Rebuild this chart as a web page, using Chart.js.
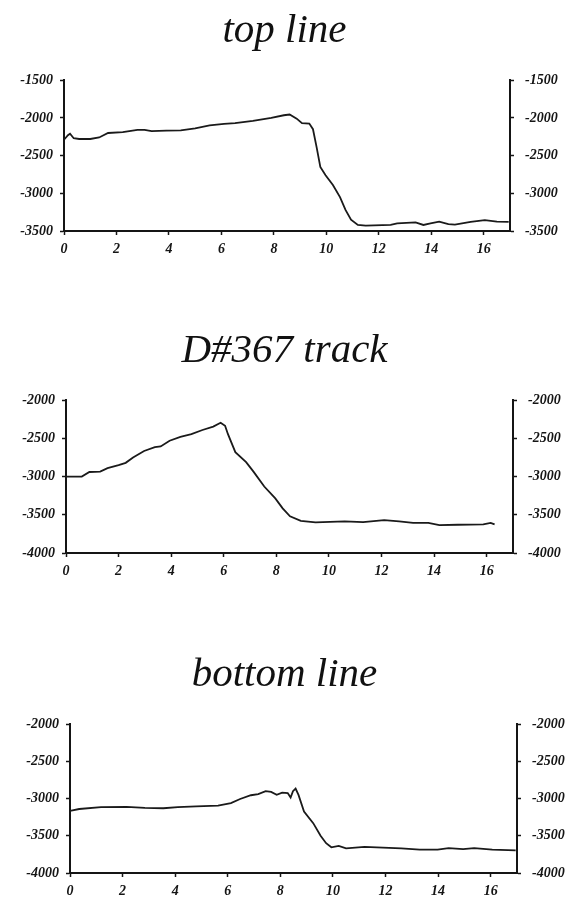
<!DOCTYPE html>
<html>
<head>
<meta charset="utf-8">
<script src="https://cdn.jsdelivr.net/npm/chart.js@4/dist/chart.umd.min.js"></script>
<style>
    html, body { margin: 0; padding: 0; background: #fff; }
    body { width: 569px; height: 900px; position: relative; overflow: hidden; }
    canvas { position: absolute; left: 0; }
</style>
</head>
<body>
<canvas id="top-chart" width="569" height="258" style="top:0px"></canvas>
<canvas id="track-chart" width="569" height="260" style="top:320px"></canvas>
<canvas id="bottom-chart" width="569" height="256" style="top:644px"></canvas>
<script>
// values
const titles = ['top line', 'D#367 track', 'bottom line']
const xTicks = [0, 2, 4, 6, 8, 10, 12, 14, 16]

const topX = [0, 0.15, 0.23, 0.37, 0.58, 1.0, 1.34, 1.68, 2.24, 2.8, 3.07, 3.34, 3.9, 4.45, 5.0, 5.55, 6.1, 6.52, 7.2, 7.9, 8.38, 8.6, 8.87, 9.07, 9.35, 9.49, 9.63, 9.77, 9.97, 10.25, 10.52, 10.73, 10.94, 11.2, 11.5, 12.45, 12.7, 13.4, 13.7, 13.97, 14.3, 14.65, 14.9, 15.5, 16.04, 16.5, 16.95]
const topY = [-2290, -2230, -2210, -2270, -2280, -2280, -2260, -2200, -2190, -2160, -2160, -2175, -2170, -2165, -2140, -2100, -2080, -2070, -2040, -2000, -1965, -1955, -2010, -2070, -2075, -2150, -2390, -2650, -2760, -2890, -3050, -3220, -3350, -3420, -3430, -3420, -3400, -3385, -3420, -3400, -3375, -3410, -3415, -3380, -3355, -3375, -3380]

const trackX = [0, 0.6, 0.89, 1.3, 1.58, 2.0, 2.27, 2.55, 2.97, 3.38, 3.6, 3.94, 4.35, 4.77, 5.19, 5.6, 5.88, 6.05, 6.16, 6.44, 6.85, 7.13, 7.54, 7.96, 8.24, 8.52, 8.93, 9.49, 10.6, 11.3, 12.1, 12.67, 13.2, 13.78, 14.2, 14.9, 15.87, 16.15, 16.3]
const trackY = [-3000, -3000, -2940, -2935, -2890, -2850, -2820, -2750, -2665, -2615, -2605, -2530, -2480, -2445, -2390, -2345, -2295, -2335, -2445, -2680, -2810, -2935, -3130, -3285, -3415, -3520, -3580, -3600, -3585, -3595, -3570, -3585, -3605, -3605, -3635, -3630, -3625, -3605, -3625]

const bottomX = [0, 0.35, 1.18, 2.15, 2.85, 3.55, 4.1, 4.8, 5.63, 6.12, 6.47, 6.88, 7.16, 7.44, 7.65, 7.86, 8.07, 8.28, 8.39, 8.48, 8.58, 8.69, 8.9, 9.25, 9.53, 9.74, 9.94, 10.22, 10.5, 11.2, 11.9, 12.6, 13.3, 13.98, 14.4, 14.95, 15.37, 16.06, 16.95]
const bottomY = [-3165, -3140, -3115, -3110, -3125, -3130, -3115, -3105, -3095, -3060, -3005, -2955, -2940, -2900, -2910, -2950, -2920, -2925, -2985, -2900, -2865, -2950, -3175, -3330, -3500, -3600, -3655, -3635, -3670, -3650, -3660, -3670, -3685, -3685, -3665, -3680, -3665, -3685, -3695]

const topRange = [-3500, -1500]
const lowRange = [-4000, -2000]

const tickFont = { family: 'Liberation Serif', size: 14, style: 'italic', weight: 'bold' }
const ink = '#151515'

const yAxis = (range, position, width, padding) => ({
    type: 'linear',
    position,
    min: range[0],
    max: range[1],
    afterFit: scale => { scale.width = width },
    border: { display: true, color: ink, width: 2 },
    grid: { drawOnChartArea: false, drawTicks: true, tickLength: 4, tickColor: ink, tickWidth: 1.5 },
    ticks: { stepSize: 500, padding, color: ink, font: tickFont, callback: value => String(value) }
})

const renderChart = (canvasId, title, xs, ys, range, leftW, rightW) => {
    const canvasEl = document.getElementById(canvasId)
    return new Chart(canvasEl.getContext('2d'), {
        type: 'line',
        data: {
            datasets: [{
                data: xs.map((x, i) => ({ x, y: ys[i] })),
                borderColor: '#1a1a1a',
                borderWidth: 1.8,
                pointRadius: 0,
                tension: 0,
                yAxisID: 'y'
            }]
        },
        options: {
            responsive: false,
            animation: false,
            devicePixelRatio: 1,
            layout: { padding: 0 },
            scales: {
                x: {
                    type: 'linear',
                    min: 0,
                    max: 17,
                    afterFit: scale => { scale.height = 27 },
                    afterBuildTicks: scale => { scale.ticks = xTicks.map(value => ({ value })) },
                    border: { display: true, color: ink, width: 2 },
                    grid: { drawOnChartArea: false, drawTicks: true, tickLength: 4, tickColor: ink, tickWidth: 1.5 },
                    ticks: { padding: 6, maxRotation: 0, autoSkip: false, color: ink, font: tickFont }
                },
                y: yAxis(range, 'left', leftW, 7),
                y2: yAxis(range, 'right', rightW, 11)
            },
            plugins: {
                legend: { display: false },
                tooltip: { enabled: false },
                title: {
                    display: true,
                    text: title,
                    color: '#111',
                    font: { family: 'Liberation Serif', size: 41, style: 'italic', weight: 'normal' },
                    padding: { top: 7, bottom: 24 }
                }
            }
        }
    })
}

const initCharts = () => {
    renderChart('top-chart', titles[0], topX, topY, topRange, 64, 59)
    renderChart('track-chart', titles[1], trackX, trackY, lowRange, 66, 56)
    renderChart('bottom-chart', titles[2], bottomX, bottomY, lowRange, 70, 52)
}

document.addEventListener('DOMContentLoaded', initCharts, false)
</script>
</body>
</html>
